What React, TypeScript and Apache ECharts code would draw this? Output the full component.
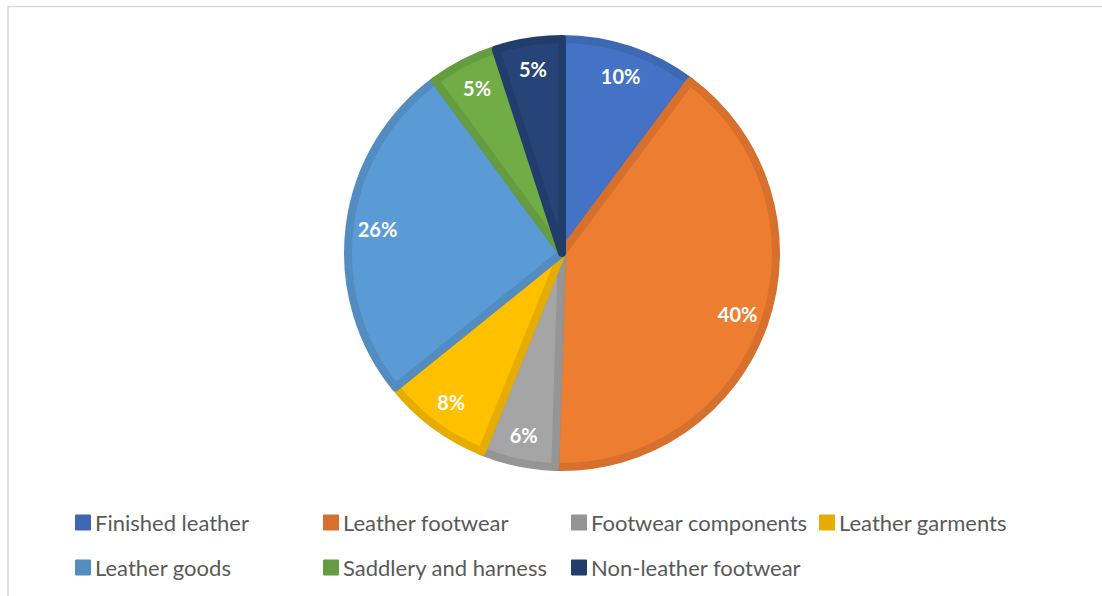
import React, { useEffect, useRef } from "react";
import * as echarts from "echarts";

const categories = [
  "Finished leather",
  "Leather footwear",
  "Footwear components",
  "Leather garments",
  "Leather goods",
  "Saddlery and harness",
  "Non-leather footwear",
];
const shares = [10.2, 40.3, 5.6, 8.1, 25.7, 5.1, 5.0];
const fillColors = ["#4472C4", "#ED7D31", "#A5A5A5", "#FFC000", "#5B9BD5", "#70AD47", "#264478"];
const edgeColors = ["#3F68B4", "#D6702C", "#959595", "#E6AD00", "#528CC1", "#659C40", "#223D6C"];

export default function App() {
  const ref = useRef<HTMLDivElement>(null);
  useEffect(() => {
    document.body.style.margin = "0";
    if (!ref.current) return;
    const chart = echarts.init(ref.current, undefined, { renderer: "svg" });
    const center = [562, 253];
    chart.setOption({
      animation: false,
      graphic: [
        {
          type: "rect",
          z: -10,
          shape: { x: 8, y: 6.5, width: 1200, height: 700 },
          style: { fill: "none", stroke: "#D9D9D9", lineWidth: 1.5 },
        },
      ],
      legend: {
        left: 75,
        top: 500,
        width: 1000,
        padding: 0,
        itemWidth: 14,
        itemHeight: 14,
        itemGap: 0,
        icon: "rect",
        textStyle: {
          fontFamily: "Lato",
          fontSize: 22,
          color: "#595959",
          width: 228,
          lineHeight: 45,
          overflow: "none",
        },
        data: categories.map((name, i) => ({ name, itemStyle: { color: edgeColors[i] } })),
      },
      series: [
        {
          type: "pie",
          center,
          radius: [0, 214],
          startAngle: 90,
          clockwise: true,
          silent: true,
          label: { show: false },
          labelLine: { show: false },
          emphasis: { disabled: true },
          data: categories.map((name, i) => ({
            name,
            value: shares[i],
            itemStyle: { color: fillColors[i], borderColor: edgeColors[i], borderWidth: 8 },
          })),
        },
        {
          type: "pie",
          center,
          radius: [148, 218],
          startAngle: 90,
          clockwise: true,
          silent: true,
          legendHoverLink: false,
          itemStyle: { color: "rgba(0,0,0,0)" },
          emphasis: { disabled: true },
          labelLine: { show: false },
          label: {
            show: true,
            position: "inside",
            color: "#FFFFFF",
            fontFamily: "Lato",
            fontWeight: "bold",
            fontSize: 20,
            formatter: (p: any) => `${Math.round(p.percent)}%`,
          },
          data: categories.map((name, i) => ({ name, value: shares[i] })),
        },
      ],
    });
    return () => chart.dispose();
  }, []);
  return <div ref={ref} style={{ width: 1102, height: 596 }} />;
}
